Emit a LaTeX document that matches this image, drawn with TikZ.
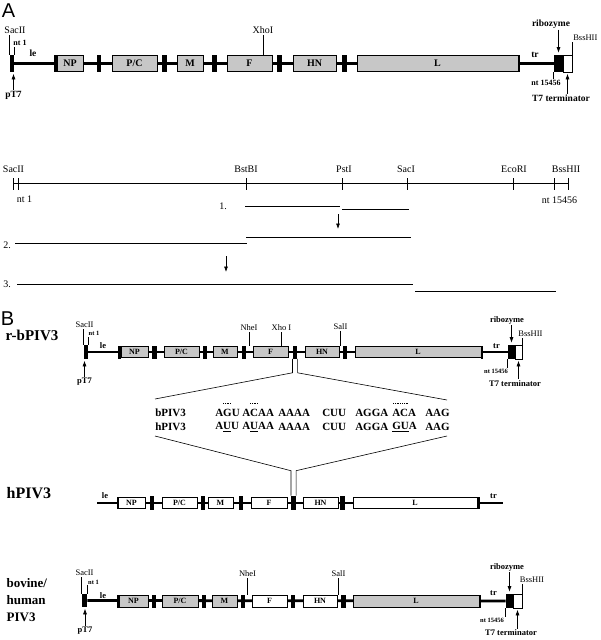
\documentclass[tikz,border=0pt]{standalone}
\usepackage{fontspec}
\setmainfont{Liberation Serif}
\newfontfamily\panelfont{Liberation Sans}
\usetikzlibrary{arrows.meta,positioning,backgrounds}

\begin{document}
\begin{tikzpicture}[x=1pt,y=-1pt,line width=0.6pt,>={Latex[length=5.5pt,width=4pt]}]
    \tikzset{gene/.style={draw,line width=0.6pt,inner sep=0pt,minimum height=16pt,font=\fontsize{10}{10}\selectfont\bfseries},
      grey/.style={fill=black!22},
      open/.style={fill=white},
      igr/.style={fill=black,inner sep=0pt,minimum width=4.5pt,minimum height=17pt},
      bar/.style={fill=black,inner sep=0pt,minimum width=2.5pt,minimum height=17pt},
      backbone/.style={line width=2.8pt},
      mapline/.style={line width=0.8pt},
      site/.style={inner sep=1pt,font=\fontsize{10}{10}\selectfont},
      tag/.style={inner sep=1pt,font=\fontsize{9.5}{9.5}\selectfont\bfseries},
      small tag/.style={inner sep=1pt,font=\fontsize{8}{8}\selectfont\bfseries},
      panel/.style={font=\fontsize{20}{20}\selectfont\panelfont},
      virus/.style={anchor=west,align=left,font=\fontsize{15}{15}\selectfont\bfseries},
      seq/.style={anchor=west,inner sep=0pt,font=\fontsize{11}{11}\selectfont\bfseries}}
    \useasboundingbox (0,0) rectangle (600,640);

    % A: full length cDNA
    \node[panel] (pa) at (8.5,11) {A};
    \node[igr,minimum width=4pt] (a-t7) at (12,63.5) {};
    \node[bar] (a-le) at (55.5,63) {};
    \node[gene,grey,minimum width=26pt] (a-np) at (70,63) {NP};
    \node[igr] (a-i1) at (99,63) {};
    \node[gene,grey,minimum width=45pt] (a-pc) at (134.5,63) {P/C};
    \node[igr] (a-i2) at (164.5,63) {};
    \node[gene,grey,minimum width=26pt] (a-m) at (190,63) {M};
    \node[igr] (a-i3) at (214.5,63) {};
    \node[gene,grey,minimum width=45pt] (a-f) at (249.5,63) {F};
    \node[igr] (a-i4) at (279.5,63) {};
    \node[gene,grey,minimum width=43pt] (a-hn) at (314.5,63) {HN};
    \node[igr] (a-i5) at (344.5,63) {};
    \node[gene,grey,minimum width=161pt] (a-l) at (437.5,63) {L};
    \node[bar] (a-tr) at (519,63) {};
    \node[igr,minimum width=9pt] (a-rz) at (558.5,63.5) {};
    \node[gene,open,minimum width=9pt,minimum height=17pt] (a-term) at (567.5,63.5) {};
    \begin{scope}[on background layer]
      \draw[backbone] (a-t7) -- (a-rz);
    \end{scope}

    \node[site] (a-sac) at (15,30) {SacII};
    \node[small tag] (a-nt1) at (20,43) {nt 1};
    \node[tag] (a-pt7) at (13.5,95) {pT7};
    \node[tag] (a-letxt) at (33,53) {le};
    \node[site] (a-xho) at (263,30) {XhoI};
    \node[tag] (a-trtxt) at (535,55) {tr};
    \node[tag] (a-ribo) at (551,24) {ribozyme};
    \node[site,anchor=west,font=\fontsize{8.5}{8.5}\selectfont] (a-bss) at (572,38) {BssHII};
    \node[small tag] (a-nt) at (546,83) {nt 15456};
    \node[tag] (a-t7t) at (561,98.5) {T7 terminator};
    \draw (a-t7.north west) -- (a-t7.north west |- a-sac.south);
    \draw (a-t7.north east) -- (a-t7.north east |- a-nt1.south);
    \draw[->,shorten >=1.5pt] (a-pt7.north) -- (a-pt7.north |- a-t7.south);
    \draw (a-xho.south) -- (a-xho.south |- a-f.north);
    \draw[->,shorten >=2pt] (a-ribo.south -| a-rz) -- (a-rz.north);
    \draw (a-term.north east) -- (a-term.north east |- a-bss.south);
    \draw (a-rz.south west) -- (a-rz.south west |- a-nt.north);
    \draw[->,shorten >=1.5pt] (a-t7t.north -| a-term) -- (a-term.south);

    % A: restriction map and cloned fragments
    \draw[mapline] (13,183) -- (568,183);
    \foreach \x in {13,18,246,342,407,513,554,568}
      \draw[mapline] (\x,178) -- (\x,190);
    \node[site] (m-sac) at (13.5,169) {SacII};
    \node[site] (m-bst) at (246,169) {BstBI};
    \node[site] (m-pst) at (344,169) {PstI};
    \node[site] (m-sacI) at (406,169) {SacI};
    \node[site] (m-eco) at (514,169) {EcoRI};
    \node[site] (m-bss) at (566,169) {BssHII};
    \node[site] (m-nt1) at (24.5,199) {nt 1};
    \node[site] (m-nt) at (559.5,200) {nt 15456};

    \node[site] (f-1) at (223,206) {1.};
    \draw[mapline] (245,206) -- (340,206);
    \draw[mapline] (342,209.5) -- (409,209.5);
    \draw[->] (338,214) -- (338,229);
    \draw[mapline] (246,237) -- (411,237);
    \node[site] (f-2) at (7,245) {2.};
    \draw[mapline] (15,243) -- (247,243);
    \draw[->] (226,256) -- (226,272);
    \node[site] (f-3) at (7,284) {3.};
    \draw[mapline] (17,284) -- (413,284);
    \draw[mapline] (415,291) -- (556,291);

    % B: r-bPIV3
    \node[panel] (pb) at (7.5,319) {B};
    \node[virus] (b-name) at (2,335) {r-bPIV3};
    \begin{scope}[gene/.append style={minimum height=11pt,font=\fontsize{8}{8}\selectfont\bfseries},
      igr/.append style={minimum height=13pt},bar/.append style={minimum height=13pt},
      site/.append style={font=\fontsize{8.5}{8.5}\selectfont},
      tag/.append style={font=\fontsize{8.5}{8.5}\selectfont\bfseries},
      small tag/.append style={font=\fontsize{6.5}{6.5}\selectfont\bfseries}]
      \node[igr,minimum width=4pt,minimum height=14pt] (b-t7) at (86,352) {};
      \node[bar] (b-le) at (119.5,352) {};
      \node[gene,grey,minimum width=27pt] (b-np) at (134.5,352) {NP};
      \node[igr] (b-i1) at (154.5,352) {};
      \node[gene,grey,minimum width=35pt] (b-pc) at (181.5,352) {P/C};
      \node[igr] (b-i2) at (205,352) {};
      \node[gene,grey,minimum width=24pt] (b-m) at (225,352) {M};
      \node[igr] (b-i3) at (244,352) {};
      \node[gene,grey,minimum width=35pt] (b-f) at (270.5,352) {F};
      \node[igr] (b-i4) at (295,352) {};
      \node[gene,grey,minimum width=34pt] (b-hn) at (322,352) {HN};
      \node[igr] (b-i5) at (345,352) {};
      \node[gene,grey,minimum width=126pt] (b-l) at (418,352) {L};
      \node[bar] (b-tr) at (482,352) {};
      \node[igr,minimum width=7pt,minimum height=14pt] (b-rz) at (511.5,352) {};
      \node[gene,open,minimum width=7pt,minimum height=14pt] (b-term) at (518.5,352) {};
      \begin{scope}[on background layer]
        \draw[backbone] (b-t7) -- (b-rz);
      \end{scope}

      \node[site] (b-sac) at (84.5,325) {SacII};
      \node[small tag] (b-nt1) at (94,333.5) {nt 1};
      \node[tag] (b-pt7) at (84.5,382) {pT7};
      \node[tag] (b-letxt) at (103,346) {le};
      \node[site] (b-nhe) at (249,328) {NheI};
      \node[site] (b-xho) at (281.5,328) {Xho I};
      \node[site] (b-sal) at (340.5,326.5) {SalI};
      \node[tag] (b-trtxt) at (496.5,346) {tr};
      \node[tag] (b-ribo) at (507,320) {ribozyme};
      \node[site] (b-bss) at (530.5,334) {BssHII};
      \node[small tag] (b-nt) at (496,371.5) {nt 15456};
      \node[tag] (b-t7t) at (515,383.5) {T7 terminator};
      \draw (b-t7.north west) -- (b-t7.north west |- b-sac.south);
      \draw (b-t7.north east) -- (b-t7.north east |- b-nt1.south);
      \draw[->,shorten >=1.5pt] (b-pt7.north) -- (b-pt7.north |- b-t7.south);
      \draw (b-nhe.south) -- (b-nhe.south |- b-f.north);
      \draw (b-xho.south) -- (b-xho.south |- b-f.north);
      \draw (b-sal.south) -- (b-sal.south |- b-hn.north);
      \draw[->,shorten >=2pt] (b-ribo.south -| b-rz) -- (b-rz.north);
      \draw (b-term.north east) -- (b-term.north east |- b-bss.south);
      \draw (b-rz.south west) -- (b-rz.south west |- b-nt.north);
      \draw[->,shorten >=1.5pt] (b-t7t.north -| b-term) -- (b-term.south);
    \end{scope}

    % B: F-HN gene junction
    \coordinate (z-tl) at (155,399);
    \coordinate (z-tr) at (447,400);
    \coordinate (z-bl) at (155,436);
    \coordinate (z-br) at (447,436);
    \node[seq] (z-b) at (155,413) {bPIV3};
    \node[seq] (z-h) at (155,427) {hPIV3};
    \node[seq] (b-s1) at (215,413) {AGU};
    \node[seq] (b-s2) at (242,413) {ACAA};
    \node[seq] (b-s3) at (278,413) {AAAA};
    \node[seq] (b-s4) at (322,413) {CUU};
    \node[seq] (b-s5) at (355,413) {AGGA};
    \node[seq] (b-s6) at (392,413) {ACA};
    \node[seq] (b-s7) at (425,413) {AAG};
    \node[seq] (h-s1) at (215,427) {A\underline{U}U};
    \node[seq] (h-s2) at (242,427) {A\underline{U}AA};
    \node[seq] (h-s3) at (278,427) {AAAA};
    \node[seq] (h-s4) at (322,427) {CUU};
    \node[seq] (h-s5) at (355,427) {AGGA};
    \node[seq] (h-s6) at (392,427) {\underline{GU}A};
    \node[seq] (h-s7) at (425,427) {AAG};
    \draw[densely dotted,line width=0.8pt] (223,403) -- (231,403);
    \draw[densely dotted,line width=0.8pt] (250,403) -- (258,403);
    \draw[densely dotted,line width=0.8pt] (393,403) -- (408,403);

    % B: hPIV3
    \node[virus,font=\fontsize{16}{16}\selectfont\bfseries] (h-name) at (3,493) {hPIV3};
    \begin{scope}[gene/.append style={minimum height=11pt,font=\fontsize{8}{8}\selectfont\bfseries},
      igr/.append style={minimum height=14pt},bar/.append style={minimum height=12pt},
      tag/.append style={font=\fontsize{8.5}{8.5}\selectfont\bfseries}]
      \coordinate (h-start) at (97,503);
      \coordinate (h-end) at (503,503);
      \node[bar] (h-le) at (118,503) {};
      \node[gene,open,minimum width=27pt] (h-np) at (131.5,503) {NP};
      \node[igr] (h-i1) at (152,503) {};
      \node[gene,open,minimum width=35pt] (h-pc) at (179.5,503) {P/C};
      \node[igr] (h-i2) at (203,503) {};
      \node[gene,open,minimum width=25pt] (h-m) at (220.5,503) {M};
      \node[igr] (h-i3) at (241,503) {};
      \node[gene,open,minimum width=36pt] (h-f) at (269,503) {F};
      \node[igr] (h-i4) at (293.5,503) {};
      \node[gene,open,minimum width=35pt] (h-hn) at (320.5,503) {HN};
      \node[igr] (h-i5) at (342.5,503) {};
      \node[gene,open,minimum width=124pt] (h-l) at (415,503) {L};
      \node[bar] (h-tr) at (478.5,503) {};
      \begin{scope}[on background layer]
        \draw[backbone] (h-start) -- (h-end);
      \end{scope}
      \node[tag] (h-letxt) at (105,495.5) {le};
      \node[tag] (h-trtxt) at (493.5,496) {tr};
    \end{scope}

    \draw (b-i4.south west) -- ([yshift=-14pt]b-i4.south west) -- (z-tl);
    \draw (b-i4.south east) -- ([yshift=-14pt]b-i4.south east) -- (z-tr);
    \draw (z-bl) -- ([yshift=25pt]h-i4.north west) -- (h-i4.north west);
    \draw (z-br) -- ([yshift=25pt]h-i4.north east) -- (h-i4.north east);

    % B: bovine/human PIV3
    \node[virus,font=\fontsize{13}{17}\selectfont\bfseries] (c-name) at (3,600) {bovine/\\human\\PIV3};
    \begin{scope}[gene/.append style={minimum height=12pt,font=\fontsize{8}{8}\selectfont\bfseries},
      igr/.append style={minimum height=13pt},bar/.append style={minimum height=13pt},
      site/.append style={font=\fontsize{8.5}{8.5}\selectfont},
      tag/.append style={font=\fontsize{8.5}{8.5}\selectfont\bfseries},
      small tag/.append style={font=\fontsize{6.5}{6.5}\selectfont\bfseries}]
      \node[igr,minimum width=5pt,minimum height=13pt] (c-t7) at (84.5,600.5) {};
      \node[bar] (c-le) at (118.5,601) {};
      \node[gene,grey,minimum width=29pt] (c-np) at (133.5,601) {NP};
      \node[igr] (c-i1) at (154,601) {};
      \node[gene,grey,minimum width=36pt] (c-pc) at (180,601) {P/C};
      \node[igr,minimum width=4pt] (c-i2) at (203.5,601) {};
      \node[gene,grey,minimum width=25pt] (c-m) at (224.5,601) {M};
      \node[igr] (c-i3) at (243,601) {};
      \node[gene,open,minimum width=35pt] (c-f) at (269.5,601) {F};
      \node[igr] (c-i4) at (293,601) {};
      \node[gene,open,minimum width=34pt] (c-hn) at (320,601) {HN};
      \node[igr] (c-i5) at (343.5,601) {};
      \node[gene,grey,minimum width=126pt] (c-l) at (416,601) {L};
      \node[bar] (c-tr) at (480,601) {};
      \node[igr,minimum width=7pt,minimum height=14pt] (c-rz) at (509.5,601) {};
      \node[gene,open,minimum width=9pt,minimum height=14pt] (c-term) at (517.5,601) {};
      \begin{scope}[on background layer]
        \draw[backbone] (c-t7) -- (c-rz);
      \end{scope}

      \node[site] (c-sac) at (84.5,572.5) {SacII};
      \node[small tag] (c-nt1) at (93.5,582) {nt 1};
      \node[tag] (c-pt7) at (85,631) {pT7};
      \node[tag] (c-letxt) at (103,595.5) {le};
      \node[site] (c-nhe) at (247.5,573.5) {NheI};
      \node[site] (c-sal) at (338.5,573.5) {SalI};
      \node[tag] (c-trtxt) at (493.5,593) {tr};
      \node[tag] (c-ribo) at (507,567) {ribozyme};
      \node[site] (c-bss) at (532,580) {BssHII};
      \node[small tag] (c-nt) at (492,620.5) {nt 15456};
      \node[tag] (c-t7t) at (511,633) {T7 terminator};
      \draw (c-t7.north west) -- (c-t7.north west |- c-sac.south);
      \draw (c-t7.north east) -- (c-t7.north east |- c-nt1.south);
      \draw[->,shorten >=1.5pt] (c-pt7.north) -- (c-pt7.north |- c-t7.south);
      \draw (c-nhe.south) -- (c-nhe.south |- c-f.north);
      \draw (c-sal.south) -- (c-sal.south |- c-hn.north);
      \draw[->,shorten >=2pt] (c-ribo.south -| c-rz) -- (c-rz.north);
      \draw (c-term.north east) -- (c-term.north east |- c-bss.south);
      \draw (c-rz.south west) -- (c-rz.south west |- c-nt.north);
      \draw[->,shorten >=1.5pt] (c-t7t.north -| c-term) -- (c-term.south);
    \end{scope}
\end{tikzpicture}
\end{document}
